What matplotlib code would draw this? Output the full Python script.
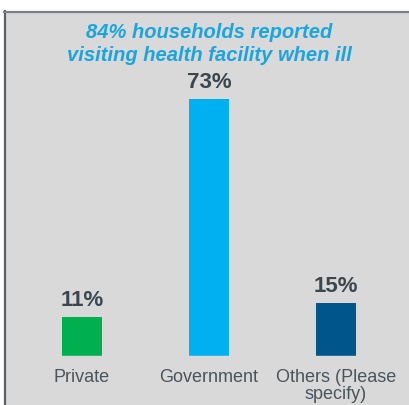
import matplotlib.pyplot as plt
from matplotlib.patches import Rectangle
from matplotlib.lines import Line2D

plt.rcParams['font.family'] = ['Liberation Sans', 'DejaVu Sans']

categories = ['Private', 'Government', 'Others (Please\nspecify)']
values = [11, 73, 15]
bar_colors = ['#00b050', '#00b0f0', '#00558a']
title = '84% households reported\nvisiting health facility when ill'

W, H = 409, 406
fig = plt.figure(figsize=(W / 100, H / 100), dpi=100)
fig.patch.set_facecolor('white')

# grey panel with a dark left/top edge
fig.patches.append(Rectangle((5 / W, 0), 1, (H - 13) / H, transform=fig.transFigure,
                             facecolor='#d9d9d9', edgecolor='none', zorder=-5))
fig.lines.append(Line2D([5 / W, 5 / W], [0, (H - 12) / H], transform=fig.transFigure,
                        color='#5a6268', lw=1.6, zorder=-4))
fig.lines.append(Line2D([4.2 / W, 1], [(H - 12.5) / H, (H - 12.5) / H], transform=fig.transFigure,
                        color='#7b8388', lw=1.6, zorder=-4))

# axes: baseline at 357px from top, bars 127px apart
left, right = 18.5, 399.5
bottom = H - 357
top = H - 20
ax = fig.add_axes([left / W, bottom / H, (right - left) / W, (top - bottom) / H])
ax.set_facecolor('none')
ax.set_xlim(-0.5, 2.5)
ax.set_ylim(0, (top - bottom) / 3.52)

x = range(len(categories))
ax.bar(x, values, width=0.315, color=bar_colors)
for xi, v in zip(x, values):
    ax.text(xi, v + 2.0, f'{v}%', ha='center', va='bottom', fontsize=16,
            fontweight='bold', color='#3b464e')

ax.axhline(0, color='#e8e8e8', lw=1)
for s in ax.spines.values():
    s.set_visible(False)
ax.set_yticks([])
ax.set_xticks(list(x))
ax.set_xticklabels(categories, fontsize=13, color='#4a545b', linespacing=0.95)
ax.tick_params(axis='x', length=0, pad=9)

fig.text(209 / W, 1 - 44 / H, title, ha='center', va='center', fontsize=14.5,
         fontweight='bold', fontstyle='italic', color='#1aa5de', linespacing=1.3)

fig.savefig('out.png', dpi=100)
